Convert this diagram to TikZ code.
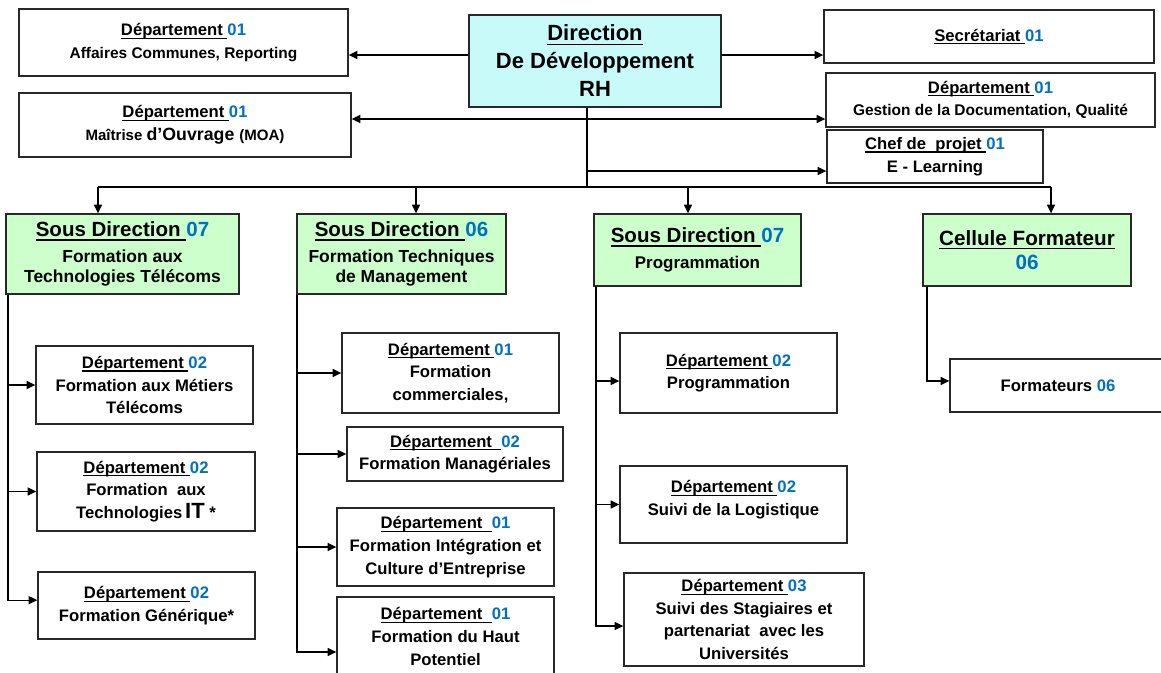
\documentclass[tikz,border=0pt]{standalone}
\usepackage{fontspec}
\setmainfont{Liberation Sans}
\usetikzlibrary{arrows.meta}

\definecolor{numblue}{RGB}{0,112,192}
\definecolor{dirfill}{RGB}{200,250,250}
\definecolor{subfill}{RGB}{204,255,204}
\definecolor{edge}{RGB}{40,40,40}

% staff numbers in blue
\newcommand{\nb}[1]{\textcolor{numblue}{#1}}
% straight underline under a word group (trailing spaces included)
\newcommand{\ulw}[1]{\setbox0=\hbox{#1}\leavevmode\rlap{\rule[-0.19em]{\wd0}{0.07em}}\box0}
% change the type size but keep the line spacing of the node
\newcommand{\fs}[1]{\fontsize{#1}{\the\baselineskip}\selectfont}
% box given by its left, top, right and bottom edges (in px)
\newcommand{\orgbox}[7]{\node[#2, minimum width={(#5-(#3))*0.75pt}, minimum height={(#6-(#4))*0.75pt}] (#1) at ({(#3+#5)/2},{(#4+#6)/2}) {#7};}

\tikzset{
  box/.style={draw=edge, line width=1pt, fill=white, inner sep=0pt, align=center,
    font=\bfseries\fontsize{12.5}{17}\selectfont},
  dirbox/.style={box, fill=dirfill, font=\bfseries\fontsize{16.5}{21}\selectfont},
  subbox/.style={box, fill=subfill, font=\bfseries\fontsize{13.1}{14.5}\selectfont},
  cellbox/.style={box, fill=subfill, font=\bfseries\fontsize{15.5}{18}\selectfont},
  conn/.style={draw=black, line width=1pt},
  arr/.style={conn, -{Triangle[length=6.5pt,width=6pt]}},
}

\begin{document}
\begin{tikzpicture}[x=0.75pt,y=-0.75pt]
\clip (0,0) rectangle (1161,672);
\fill[white] (0,0) rectangle (1161,672);

% ---- top level ----
\orgbox{aff}{box}{19}{9}{348}{76}{\ulw{Département }\nb{01}\\{\fs{11.6}Affaires Communes, Reporting}}
\orgbox{moa}{box}{19}{93}{351}{157}{\ulw{Département }\nb{01}\\{\fs{11.3}Maîtrise }{\fs{13.3}d’Ouvrage }{\fs{11.3}(MOA)}}
\orgbox{dir}{dirbox}{469}{15}{721}{107}{\ulw{Direction}\\De Développement\\RH}
\orgbox{sec}{box}{824}{10}{1154}{63}{\ulw{Secrétariat }\nb{01}}
\orgbox{gest}{box}{826}{73}{1155}{127}{\ulw{Département }\nb{01}\\{\fs{11.6}Gestion de la Documentation, Qualité}}
\orgbox{chef}{box}{827}{130}{1043}{183}{\ulw{Chef de\ \ projet }\nb{01}\\E - Learning}

% ---- sub-directions ----
\orgbox{sdt}{subbox}{6}{214}{239}{294}{{\fs{15.4}\ulw{Sous Direction }\nb{07}}\\[5pt]Formation aux\\Technologies Télécoms}
\orgbox{sdm}{subbox}{297}{214}{506}{294}{{\fs{15.4}\ulw{Sous Direction }\nb{06}}\\[5pt]Formation Techniques\\de Management}
\orgbox{sdp}{subbox}{594}{214}{801}{286}{{\fs{15.4}\ulw{Sous Direction }\nb{07}}\\[5pt]{\fs{12.7}Programmation}}
\orgbox{cf}{cellbox}{923}{214}{1131}{286}{\ulw{Cellule Formateur}\\\nb{06}}

% ---- departments ----
\orgbox{d1}{box}{36}{346}{253}{424}{\ulw{Département }\nb{02}\\Formation aux Métiers\\Télécoms}
\orgbox{d2}{box}{37}{452}{255}{531}{\ulw{Département }\nb{02}\\Formation\ \ aux\\Technologies\,{\fs{16.5}IT} *}
\orgbox{d3}{box}{38}{572}{255}{639}{\ulw{Département }\nb{02}\\Formation Générique*}
\orgbox{m1}{box}{342}{333}{559}{413}{\ulw{Département }\nb{01}\\Formation\\commerciales,}
\orgbox{m2}{box}{347}{427}{563}{481}{\ulw{Département\ \ }\nb{02}\\Formation Managériales}
\orgbox{m3}{box}{337}{508}{554}{586}{\ulw{Département\ \ }\nb{01}\\Formation Intégration et\\Culture d’Entreprise}
\orgbox{m4}{box}{337}{597}{554}{676}{\ulw{Département\ \ }\nb{01}\\Formation du Haut\\Potentiel}
\orgbox{p1}{box}{620}{333}{837}{413}{\ulw{Département }\nb{02}\\Programmation}
\orgbox{p2}{box}{620}{466}{847}{543}{\ulw{Département }\nb{02}\\Suivi de la Logistique\rule[-10pt]{0pt}{10pt}}
\orgbox{p3}{box}{624}{573}{864}{666}{\ulw{Département }\nb{03}\\Suivi des Stagiaires et\\partenariat\ \ avec les\\Universités}
\orgbox{form}{box}{950}{359}{1166}{412}{Formateurs \nb{06}}

% ---- connectors from the direction ----
\coordinate (ytop) at (0,55);
\coordinate (ymid) at (0,119);
\coordinate (ychef) at (0,171);
\coordinate (trunk) at (587,187);
\draw[arr] (dir.west |- ytop) -- (aff.east |- ytop);
\draw[arr] (dir.east |- ytop) -- (sec.west |- ytop);
\draw[conn] (dir.south -| trunk) -- (trunk);
\draw[arr] (trunk |- ymid) -- (moa.east |- ymid);
\draw[arr] (trunk |- ymid) -- (gest.west |- ymid);
\draw[arr] (trunk |- ychef) -- (chef.west |- ychef);

% ---- bus to the sub-directions ----
\coordinate (b1) at (98,187);
\coordinate (b2) at (416,187);
\coordinate (b3) at (688,187);
\coordinate (b4) at (1051,187);
\draw[conn] (b1) -- (b4);
\draw[arr] (b1) -- (b1 |- sdt.north);
\draw[arr] (b2) -- (b2 |- sdm.north);
\draw[arr] (b3) -- (b3 |- sdp.north);
\draw[arr] (b4) -- (b4 |- cf.north);

% ---- spines to the departments ----
\coordinate (sL) at (8,0);
\coordinate (sM) at (297,0);
\coordinate (sP) at (596,0);
\coordinate (sC) at (927,0);

\draw[arr] (sdt.south -| sL) |- ([yshift=4pt]d3.west);
\draw[arr] (sL |- d1.west) -- (d1.west);
\draw[arr] (sL |- d2.west) -- (d2.west);

\draw[arr] (sdm.south -| sM) |- ([yshift=-11.6pt]m4.west);
\draw[arr] (sM |- m1.west) -- (m1.west);
\draw[arr] (sM |- m2.west) -- (m2.west);
\draw[arr] (sM |- m3.west) -- (m3.west);

\coordinate (p1in) at ([yshift=-6pt]p1.west);
\draw[arr] (sdp.south -| sP) |- ([yshift=-4.9pt]p3.west);
\draw[arr] (sP |- p1in) -- (p1in);
\draw[arr] (sP |- p2.west) -- (p2.west);

\draw[arr] (cf.south -| sC) |- ([yshift=3.4pt]form.west);
\end{tikzpicture}
\end{document}
